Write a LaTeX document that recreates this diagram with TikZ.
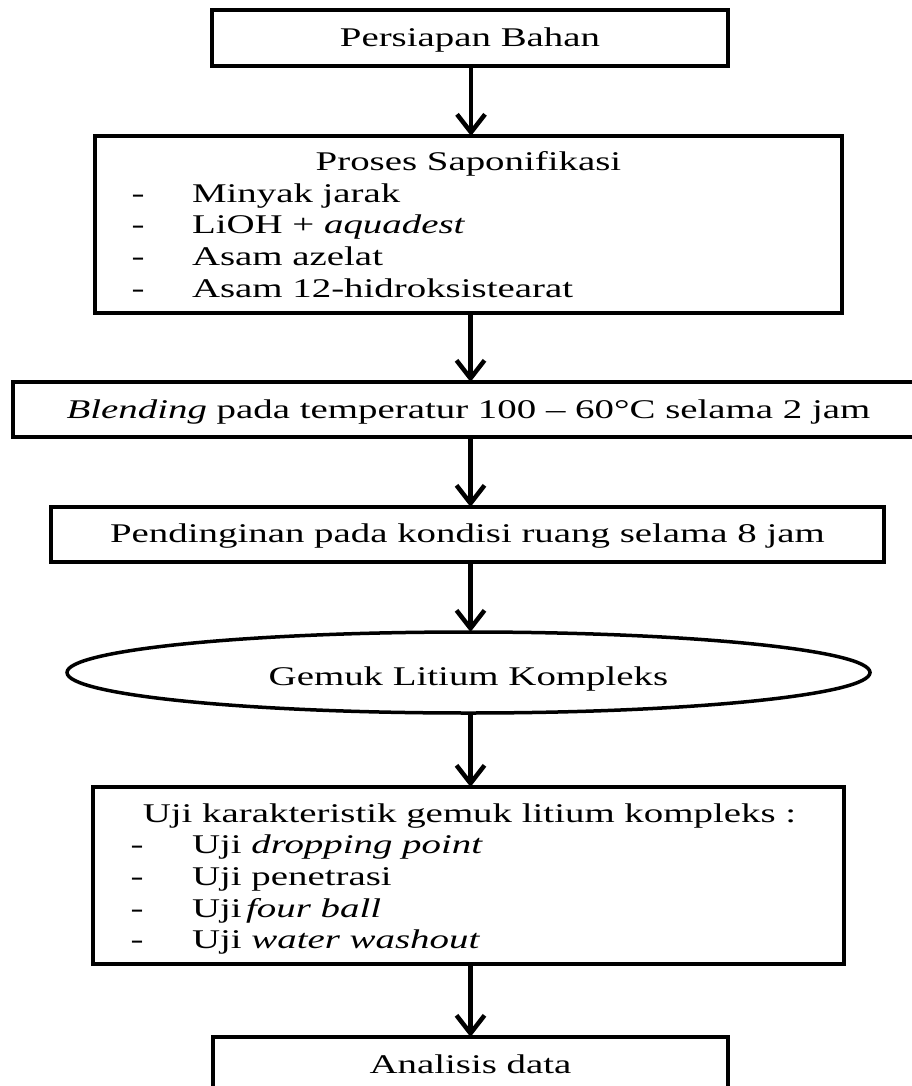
\documentclass[tikz,border=0pt]{standalone}
\usepackage{fontspec}
\setmainfont{Liberation Serif}[FakeStretch=1.44]
\usetikzlibrary{arrows.meta,shapes.geometric}
\begin{document}
\begin{tikzpicture}[x=1pt,y=-1pt,line width=4pt,
  boxst/.style={draw,rectangle,inner sep=0pt,outer sep=0pt},
  ellst/.style={draw,ellipse,inner sep=0pt,outer sep=0pt,line width=3.5pt},
  txt/.style={inner sep=0pt,outer sep=0pt,font=\fontsize{27}{32}\selectfont},
  arr/.style={-{Straight Barb[length=18pt,width=28pt]},line width=4.5pt}]
\useasboundingbox (0,0) rectangle (912,1086);
% boxes
\node[boxst,minimum width=516pt,minimum height=56pt] (b1) at (470,38) {};
\node[boxst,minimum width=747pt,minimum height=177pt] (b2) at (468.5,224.5) {};
\node[boxst,minimum width=912pt,minimum height=55pt] (b3) at (469,409.5) {};
\node[boxst,minimum width=833pt,minimum height=55pt] (b4) at (467.5,534.5) {};
\node[ellst,minimum width=803pt,minimum height=81pt] (e5) at (468.5,672.5) {};
\node[boxst,minimum width=751pt,minimum height=177pt] (b6) at (468.5,875.5) {};
\node[boxst,minimum width=515pt,minimum height=56pt] (b7) at (470.5,1065) {};
% texts
\node[txt,anchor=base] (t1) at (470,47) {Persiapan Bahan};
\node[txt,anchor=base] (t2) at (468.5,171) {Proses Saponifikasi};
\node[txt,anchor=base] (d21) at (138,202) {-};
\node[txt,anchor=base] (d22) at (138,233) {-};
\node[txt,anchor=base] (d23) at (138,265) {-};
\node[txt,anchor=base] (d24) at (138,297) {-};
\node[txt,anchor=base west] (i21) at (192,202) {Minyak jarak};
\node[txt,anchor=base west] (i22) at (192,233) {LiOH + \textit{aquadest}};
\node[txt,anchor=base west] (i23) at (192,265) {Asam azelat};
\node[txt,anchor=base west] (i24) at (192,297) {Asam 12-hidroksistearat};
\node[txt,anchor=base] (t3) at (468.5,418) {\textit{Blending} pada temperatur 100 – 60°C selama 2 jam};
\node[txt,anchor=base] (t4) at (467.5,542) {Pendinginan pada kondisi ruang selama 8 jam};
\node[txt,anchor=base] (t5) at (468.5,685) {Gemuk Litium Kompleks};
\node[txt,anchor=base] (t6) at (469.5,822) {Uji karakteristik gemuk litium kompleks :};
\node[txt,anchor=base] (d61) at (137,853) {-};
\node[txt,anchor=base] (d62) at (137,885) {-};
\node[txt,anchor=base] (d63) at (137,917) {-};
\node[txt,anchor=base] (d64) at (137,948) {-};
\node[txt,anchor=base west] (i61) at (192,853) {Uji \textit{dropping point}};
\node[txt,anchor=base west] (i62) at (192,885) {Uji penetrasi};
\node[txt,anchor=base west] (i63) at (192,917) {Uji\,\textit{four ball}};
\node[txt,anchor=base west] (i64) at (192,948) {Uji \textit{water washout}};
\node[txt,anchor=base] (t7) at (470.5,1073) {Analisis data};
% connectors
\draw[arr] (b1.south) ++(1,0) coordinate (a1) -- (a1 |- b2.north);
\draw[arr] (b2.south) ++(2,0) coordinate (a2) -- (a2 |- b3.north);
\draw[arr] (b3.south) ++(1.5,0) coordinate (a3) -- (a3 |- b4.north);
\draw[arr] (b4.south) ++(3,0) coordinate (a4) -- (a4 |- e5.north);
\draw[arr] (e5.south) ++(2,0) coordinate (a5) -- (a5 |- b6.north);
\draw[arr] (b6.south) ++(2,0) coordinate (a6) -- (a6 |- b7.north);
\end{tikzpicture}
\end{document}
